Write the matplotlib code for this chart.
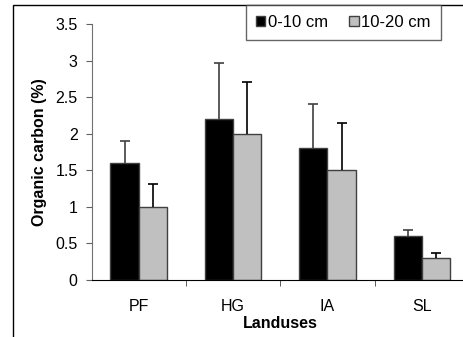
import numpy as np
import matplotlib
matplotlib.use('Agg')
import matplotlib.pyplot as plt
from matplotlib.patches import Rectangle, Patch
from matplotlib.ticker import FixedLocator, FuncFormatter

plt.rcParams['font.family'] = ['Liberation Sans', 'DejaVu Sans']

landuses = ['PF', 'HG', 'IA', 'SL']
oc_0_10 = [1.6, 2.2, 1.8, 0.6]
err_0_10 = [0.3, 0.77, 0.61, 0.08]
oc_10_20 = [1.0, 2.0, 1.5, 0.3]
err_10_20 = [0.31, 0.71, 0.65, 0.065]
series_labels = ['0-10 cm', '10-20 cm']


def main():
    W, H = 464, 337
    fig = plt.figure(figsize=(W / 100, H / 100), dpi=100)

    # outer chart-area border (cropped at right/bottom in the source)
    fig.patches.append(Rectangle((13 / W, -0.1), 1.2, 1.1 - 5 / H, transform=fig.transFigure,
                                 fill=False, edgecolor='black', linewidth=1.0, zorder=0))

    ax = fig.add_axes([91.5 / W, 57 / H, (469 - 91.5) / W, 256 / H])
    x = np.arange(len(landuses))
    w = 0.3
    ecol = '#404040'
    ax.bar(x - w / 2, oc_0_10, w, color='black', edgecolor=ecol, linewidth=1.0, zorder=2)
    ax.bar(x + w / 2, oc_10_20, w, color='#c0c0c0', edgecolor=ecol, linewidth=1.0, zorder=2)

    # upper-only error bars, drop the lower caps
    for xs, ys, es, c in [(x - w / 2, oc_0_10, err_0_10, ecol), (x + w / 2, oc_10_20, err_10_20, 'black')]:
        _, caps, _ = ax.errorbar(xs, ys, yerr=[np.zeros(4), es], fmt='none', ecolor=c,
                                 elinewidth=1.2, capsize=3.5, capthick=1.2, zorder=3)
        caps[0].set_visible(False)

    ax.set_xlim(-0.5, 3.5)
    ax.set_ylim(0, 3.5)
    ax.set_yticks(np.arange(0, 3.51, 0.5))
    ax.yaxis.set_major_formatter(FuncFormatter(lambda v, p: f'{v:g}'))
    ax.set_xticks(x)
    ax.set_xticklabels(landuses)
    ax.xaxis.set_minor_locator(FixedLocator([0.5, 1.5, 2.5]))
    ax.tick_params(axis='x', which='major', length=0, pad=14, labelsize=11.5)
    ax.tick_params(axis='x', which='minor', length=4, direction='out', color='#404040')
    ax.tick_params(axis='y', length=4, direction='out', color='#606060', labelsize=11.5, pad=6)

    for s in ['top', 'right']:
        ax.spines[s].set_visible(False)
    ax.spines['left'].set_color('#707070')
    ax.spines['bottom'].set_color('black')

    ax.set_xlabel('Landuses', fontweight='bold', fontsize=11.5, labelpad=1)
    ax.set_ylabel('Organic carbon (%)', fontweight='bold', fontsize=11.5, labelpad=6)

    handles = [Patch(facecolor='black', edgecolor=ecol), Patch(facecolor='#c0c0c0', edgecolor=ecol)]
    fig.legend(handles, series_labels, loc='upper left', bbox_to_anchor=(246 / W, 1 - 5 / H),
               ncol=2, frameon=True, fancybox=False, edgecolor='#404040', fontsize=12,
               handlelength=0.55, handleheight=0.55, handletextpad=0.15, columnspacing=1.3,
               borderpad=0.6, borderaxespad=0)

    fig.savefig('out.png', dpi=100)


if __name__ == '__main__':
    main()
